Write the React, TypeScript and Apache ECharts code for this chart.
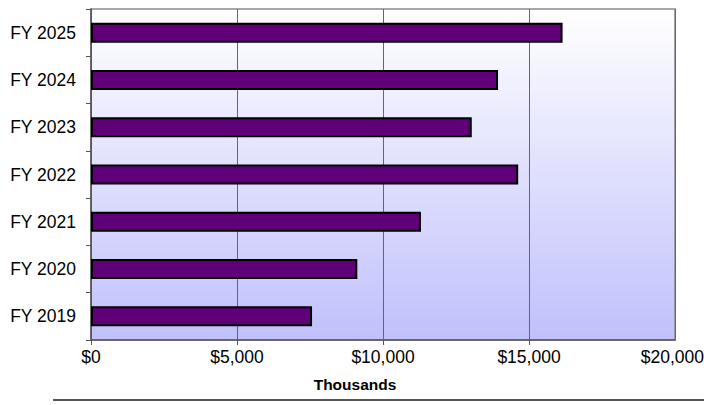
import React, { useEffect, useRef } from "react";
import * as echarts from "echarts";

const categories = ["FY 2019", "FY 2020", "FY 2021", "FY 2022", "FY 2023", "FY 2024", "FY 2025"];
const values = [7570, 9120, 11300, 14630, 13040, 13940, 16150];
const xTicks = { min: 0, max: 20000, interval: 5000 };
const axisTitle = "Thousands";

const fmt = (v: number) => "$" + v.toLocaleString("en-US");

export default function App() {
  const ref = useRef<HTMLDivElement>(null);
  useEffect(() => {
    document.body.style.margin = "0";
    const chart = echarts.init(ref.current!, null, { renderer: "svg" });
    const font = "'Liberation Sans', Arial, sans-serif";
    chart.setOption({
      animation: false,
      textStyle: { fontFamily: font },
      grid: {
        left: 91,
        right: 29,
        top: 9,
        bottom: 65,
        containLabel: false,
        outerBoundsMode: "none",
        show: true,
        borderColor: "#8a8a8a",
        borderWidth: 1.5,
        backgroundColor: new echarts.graphic.LinearGradient(0, 0, 0, 1, [
          { offset: 0, color: "#ffffff" },
          { offset: 1, color: "#c0c0fc" },
        ]),
      },
      xAxis: {
        type: "value",
        min: xTicks.min,
        max: xTicks.max,
        interval: xTicks.interval,
        axisLine: { show: true, lineStyle: { color: "#555", width: 1.5 } },
        axisTick: { show: true, length: 5, lineStyle: { color: "#555" } },
        axisLabel: {
          fontFamily: font,
          fontSize: 17.5,
          color: "#000",
          margin: 8,
          showMaxLabel: false,
          formatter: (v: number) => (v === xTicks.max ? "" : fmt(v)),
        },
        splitLine: { show: true, lineStyle: { color: "#666", width: 1 } },
      },
      yAxis: {
        type: "category",
        data: categories,
        axisLine: { show: true, lineStyle: { color: "#555", width: 1.5 } },
        axisTick: { show: true, length: 5, lineStyle: { color: "#555" } },
        axisLabel: { fontFamily: font, fontSize: 17.5, color: "#000", margin: 15 },
        splitLine: { show: false },
      },
      series: [
        {
          type: "bar",
          data: values,
          barWidth: 20,
          itemStyle: { color: "#5f0078", borderColor: "#000", borderWidth: 2 },
        },
      ],
      graphic: [
        {
          type: "text",
          x: 704,
          y: 357,
          style: {
            text: fmt(xTicks.max),
            fontFamily: font,
            fontSize: 17.5,
            fill: "#000",
            align: "right",
            verticalAlign: "middle",
          },
        },
        {
          type: "text",
          x: 355,
          y: 384,
          style: {
            text: axisTitle,
            fontFamily: font,
            fontSize: 15.5,
            fontWeight: "bold",
            fill: "#000",
            align: "center",
            verticalAlign: "middle",
          },
        },
        {
          type: "line",
          shape: { x1: 53, y1: 400, x2: 704, y2: 400 },
          style: { stroke: "#555", lineWidth: 2 },
        },
      ],
    });
    return () => chart.dispose();
  }, []);
  return <div ref={ref} style={{ width: 704, height: 405 }} />;
}
